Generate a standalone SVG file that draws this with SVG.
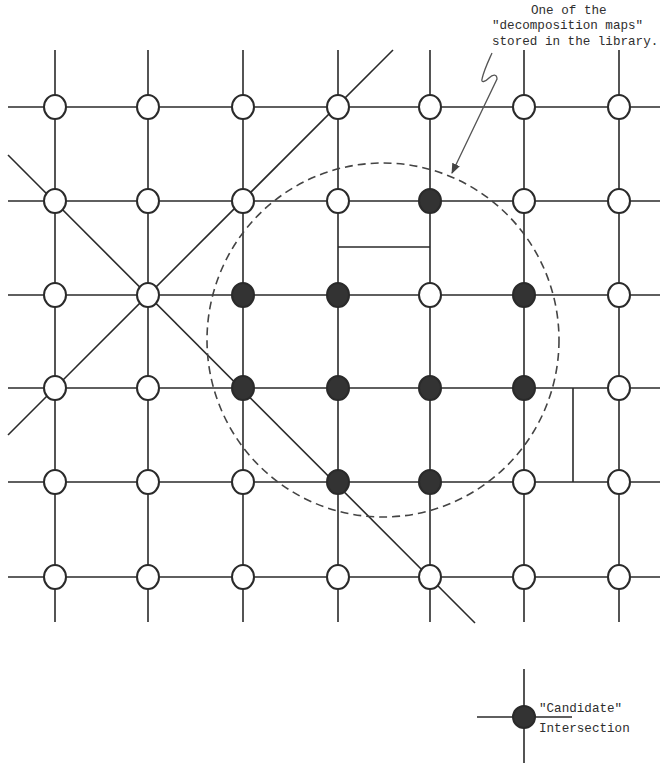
<svg xmlns="http://www.w3.org/2000/svg" width="660" height="767" viewBox="0 0 660 767">
<defs>
<style>
.ln{stroke:#2a2a2a;stroke-width:1.6;fill:none}
.o{fill:#fff;stroke:#2a2a2a;stroke-width:2}
.f{fill:#333;stroke:#2a2a2a;stroke-width:2}
.t{font-family:"Liberation Mono","DejaVu Sans Mono",monospace;font-size:12.6px;fill:#2e2e2e}
</style>
<marker id="ah" viewBox="0 0 10 10" refX="9" refY="5" markerWidth="8" markerHeight="8" orient="auto">
<path d="M0,1 L10,5 L0,9 z" fill="#444"/>
</marker>
</defs>
<rect width="660" height="767" fill="#fff"/>
<g id="connectors">
<g id="verticals" class="ln">
<line x1="55" y1="50" x2="55" y2="622"/>
<line x1="148" y1="50" x2="148" y2="622"/>
<line x1="243" y1="50" x2="243" y2="622"/>
<line x1="338" y1="50" x2="338" y2="622"/>
<line x1="430" y1="50" x2="430" y2="622"/>
<line x1="524" y1="50" x2="524" y2="622"/>
<line x1="619" y1="50" x2="619" y2="622"/>
</g>
<g id="horizontals" class="ln">
<line x1="8" y1="107" x2="660" y2="107"/>
<line x1="8" y1="201" x2="660" y2="201"/>
<line x1="8" y1="295" x2="660" y2="295"/>
<line x1="8" y1="388" x2="660" y2="388"/>
<line x1="8" y1="482" x2="660" y2="482"/>
<line x1="8" y1="577" x2="660" y2="577"/>
</g>
<g id="diagonals" class="ln">
<line x1="393" y1="50" x2="8" y2="435"/>
<line x1="8" y1="155" x2="475" y2="623"/>
</g>
<g id="extra-segments" class="ln">
<line x1="338" y1="247" x2="430" y2="247"/>
<line x1="573" y1="388" x2="573" y2="482"/>
</g>
<ellipse id="decomposition-map" cx="383" cy="340" rx="176" ry="177" fill="none" stroke="#444" stroke-width="1.6" stroke-dasharray="8,5"/>
<path id="callout-arrow" d="M492,53 C488,62 484,70 482,79 C481,83 485,82 489,78 C493,74 497,74 497,79 L452,173" fill="none" stroke="#555" stroke-width="1.3" marker-end="url(#ah)"/>
</g>
<g id="nodes">
<g id="r1"><ellipse id="n1-1" class="o" cx="55" cy="107" rx="11" ry="12"/><ellipse id="n1-2" class="o" cx="148" cy="107" rx="11" ry="12"/><ellipse id="n1-3" class="o" cx="243" cy="107" rx="11" ry="12"/><ellipse id="n1-4" class="o" cx="338" cy="107" rx="11" ry="12"/><ellipse id="n1-5" class="o" cx="430" cy="107" rx="11" ry="12"/><ellipse id="n1-6" class="o" cx="524" cy="107" rx="11" ry="12"/><ellipse id="n1-7" class="o" cx="619" cy="107" rx="11" ry="12"/></g>
<g id="r2"><ellipse id="n2-1" class="o" cx="55" cy="201" rx="11" ry="12"/><ellipse id="n2-2" class="o" cx="148" cy="201" rx="11" ry="12"/><ellipse id="n2-3" class="o" cx="243" cy="201" rx="11" ry="12"/><ellipse id="n2-4" class="o" cx="338" cy="201" rx="11" ry="12"/><ellipse id="n2-5" class="f" cx="430" cy="201" rx="11" ry="12"/><ellipse id="n2-6" class="o" cx="524" cy="201" rx="11" ry="12"/><ellipse id="n2-7" class="o" cx="619" cy="201" rx="11" ry="12"/></g>
<g id="r3"><ellipse id="n3-1" class="o" cx="55" cy="295" rx="11" ry="12"/><ellipse id="n3-2" class="o" cx="148" cy="295" rx="11" ry="12"/><ellipse id="n3-3" class="f" cx="243" cy="295" rx="11" ry="12"/><ellipse id="n3-4" class="f" cx="338" cy="295" rx="11" ry="12"/><ellipse id="n3-5" class="o" cx="430" cy="295" rx="11" ry="12"/><ellipse id="n3-6" class="f" cx="524" cy="295" rx="11" ry="12"/><ellipse id="n3-7" class="o" cx="619" cy="295" rx="11" ry="12"/></g>
<g id="r4"><ellipse id="n4-1" class="o" cx="55" cy="388" rx="11" ry="12"/><ellipse id="n4-2" class="o" cx="148" cy="388" rx="11" ry="12"/><ellipse id="n4-3" class="f" cx="243" cy="388" rx="11" ry="12"/><ellipse id="n4-4" class="f" cx="338" cy="388" rx="11" ry="12"/><ellipse id="n4-5" class="f" cx="430" cy="388" rx="11" ry="12"/><ellipse id="n4-6" class="f" cx="524" cy="388" rx="11" ry="12"/><ellipse id="n4-7" class="o" cx="619" cy="388" rx="11" ry="12"/></g>
<g id="r5"><ellipse id="n5-1" class="o" cx="55" cy="482" rx="11" ry="12"/><ellipse id="n5-2" class="o" cx="148" cy="482" rx="11" ry="12"/><ellipse id="n5-3" class="o" cx="243" cy="482" rx="11" ry="12"/><ellipse id="n5-4" class="f" cx="338" cy="482" rx="11" ry="12"/><ellipse id="n5-5" class="f" cx="430" cy="482" rx="11" ry="12"/><ellipse id="n5-6" class="o" cx="524" cy="482" rx="11" ry="12"/><ellipse id="n5-7" class="o" cx="619" cy="482" rx="11" ry="12"/></g>
<g id="r6"><ellipse id="n6-1" class="o" cx="55" cy="577" rx="11" ry="12"/><ellipse id="n6-2" class="o" cx="148" cy="577" rx="11" ry="12"/><ellipse id="n6-3" class="o" cx="243" cy="577" rx="11" ry="12"/><ellipse id="n6-4" class="o" cx="338" cy="577" rx="11" ry="12"/><ellipse id="n6-5" class="o" cx="430" cy="577" rx="11" ry="12"/><ellipse id="n6-6" class="o" cx="524" cy="577" rx="11" ry="12"/><ellipse id="n6-7" class="o" cx="619" cy="577" rx="11" ry="12"/></g>
</g>
<g id="callout-label">
<text class="t" x="531" y="14">One of the</text>
<text class="t" x="492" y="29">"decomposition maps"</text>
<text class="t" x="492" y="45">stored in the library.</text>
</g>
<g id="legend">
<line class="ln" x1="524" y1="669" x2="524" y2="763"/>
<line class="ln" x1="477" y1="717" x2="572" y2="717"/>
<ellipse class="f" cx="524" cy="717" rx="11" ry="11"/>
<text class="t" x="539" y="712">"Candidate"</text>
<text class="t" x="539" y="732">Intersection</text>
</g>
</svg>
